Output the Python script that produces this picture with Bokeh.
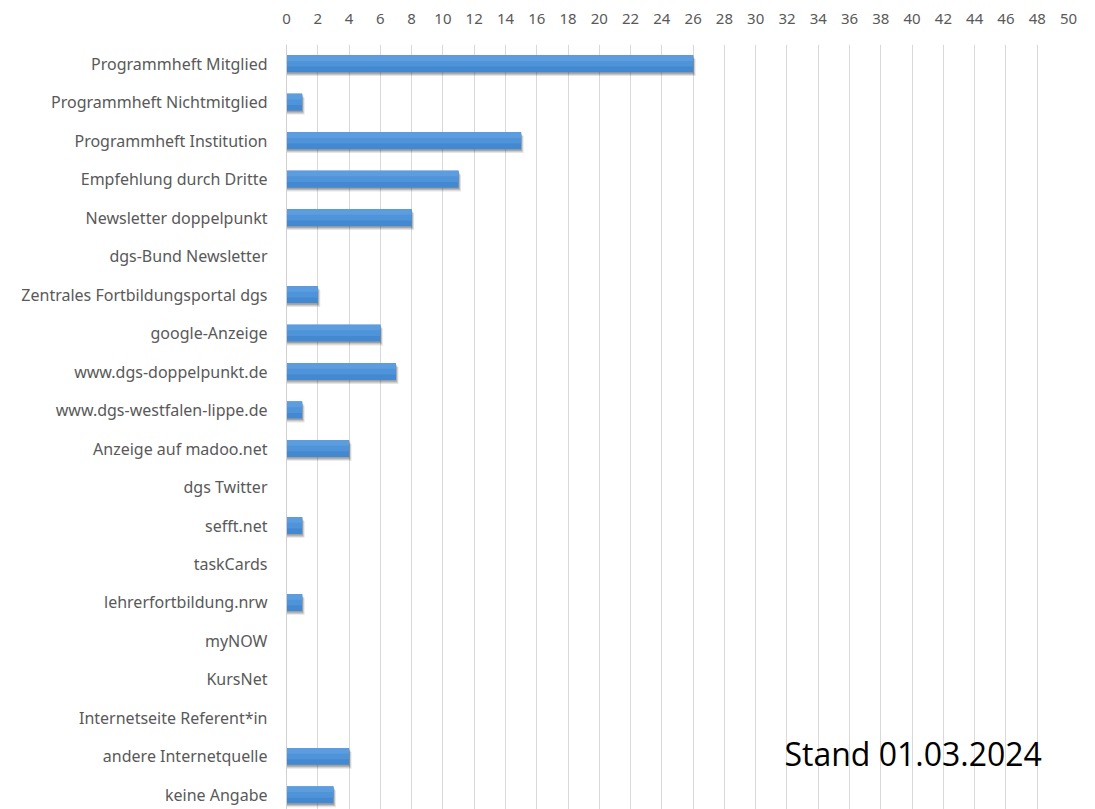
from bokeh.plotting import figure
from bokeh.models import Range1d, FixedTicker, Label
from bokeh.embed import file_html
from bokeh.resources import INLINE

categories = [
    "Programmheft Mitglied",
    "Programmheft Nichtmitglied",
    "Programmheft Institution",
    "Empfehlung durch Dritte",
    "Newsletter doppelpunkt",
    "dgs-Bund Newsletter",
    "Zentrales Fortbildungsportal dgs",
    "google-Anzeige",
    "www.dgs-doppelpunkt.de",
    "www.dgs-westfalen-lippe.de",
    "Anzeige auf madoo.net",
    "dgs Twitter",
    "sefft.net",
    "taskCards",
    "lehrerfortbildung.nrw",
    "myNOW",
    "KursNet",
    "Internetseite Referent*in",
    "andere Internetquelle",
    "keine Angabe",
]
values = [26, 1, 15, 11, 8, 0, 2, 6, 7, 1, 4, 0, 1, 0, 1, 0, 0, 0, 4, 3]
x_ticks = list(range(0, 51, 2))
note_text = "Stand 01.03.2024"

pos = list(range(len(categories)))
BAR_H = 0.44

p = figure(width=1095, height=809, output_backend="svg", toolbar_location=None,
           x_axis_location="above",
           x_range=Range1d(0, 50), y_range=Range1d(19.38, -0.5),
           min_border_left=286, min_border_right=27, min_border_top=44,
           min_border_bottom=0)
p.outline_line_color = None
p.background_fill_color = "white"

# soft drop shadow (a few translucent layers)
for dy, dx, a in [(0.10, 0.16, 0.10), (0.07, 0.10, 0.14), (0.04, 0.05, 0.18)]:
    p.hbar(y=[i + dy for i in pos], right=[v + dx if v > 0 else 0 for v in values],
           left=0, height=BAR_H, fill_color="#000000", fill_alpha=a, line_color=None)
# bar with vertical gradient imitation
p.hbar(y=pos, right=values, left=0, height=BAR_H, fill_color="#4389d1", line_color=None)
p.hbar(y=[i - BAR_H / 6 for i in pos], right=values, left=0, height=BAR_H * 2 / 3,
       fill_color="#4f93d9", line_color=None)
p.hbar(y=[i - BAR_H / 3 for i in pos], right=values, left=0, height=BAR_H / 3,
       fill_color="#5c9de0", line_color=None)

p.xaxis.ticker = FixedTicker(ticks=x_ticks)
p.xaxis.axis_line_color = None
p.xaxis.major_tick_line_color = None
p.xaxis.minor_tick_line_color = None
p.xaxis.major_label_standoff = 15
p.xaxis.major_label_text_font = "Noto Sans"
p.xaxis.major_label_text_font_size = "15px"
p.xaxis.major_label_text_color = "#595959"

p.yaxis.ticker = FixedTicker(ticks=pos)
p.yaxis.major_label_overrides = {i: c for i, c in zip(pos, categories)}
p.yaxis.axis_line_color = "#d0d0d0"
p.yaxis.major_tick_line_color = None
p.yaxis.minor_tick_line_color = None
p.yaxis.major_label_standoff = 13
p.yaxis.major_label_text_font = "Noto Sans"
p.yaxis.major_label_text_font_size = "16px"
p.yaxis.major_label_text_color = "#595959"

p.xgrid.grid_line_color = "#d9d9d9"
p.ygrid.grid_line_color = None

p.add_layout(Label(x=31.84, y=17.92, text=note_text, text_font="Open Sans",
                   text_font_size="32px", text_color="#000000",
                   text_baseline="middle"))

open("out.html", "w").write(file_html(p, INLINE))
